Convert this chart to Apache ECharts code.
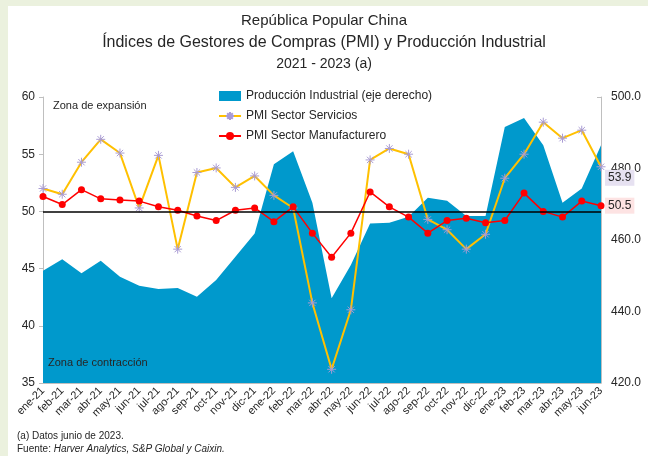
<!DOCTYPE html>
<html>
<head>
<meta charset="utf-8">
<script src="https://cdn.jsdelivr.net/npm/echarts@6/dist/echarts.min.js"></script>
<style>
  html, body { margin: 0; padding: 0; background: #fff; }
  #chart { width: 648px; height: 456px; }
</style>
</head>
<body>
<div id="chart"></div>
<script>
const months = [
  'ene-21', 'feb-21', 'mar-21', 'abr-21', 'may-21', 'jun-21', 'jul-21', 'ago-21', 'sep-21', 'oct-21',
  'nov-21', 'dic-21', 'ene-22', 'feb-22', 'mar-22', 'abr-22', 'may-22', 'jun-22', 'jul-22', 'ago-22',
  'sep-22', 'oct-22', 'nov-22', 'dic-22', 'ene-23', 'feb-23', 'mar-23', 'abr-23', 'may-23', 'jun-23',
];

// PMI (left axis)
const pmiServicios = [
  52.0, 51.5, 54.3, 56.3, 55.1, 50.3, 54.9, 46.7, 53.4, 53.8,
  52.1, 53.1, 51.4, 50.3, 42.0, 36.2, 41.4, 54.5, 55.5, 55.0,
  49.3, 48.4, 46.7, 48.0, 52.9, 55.0, 57.8, 56.4, 57.1, 53.9,
];
const pmiManufacturero = [
  51.3, 50.6, 51.9, 51.1, 51.0, 50.9, 50.4, 50.1, 49.6, 49.2,
  50.1, 50.3, 49.1, 50.4, 48.1, 46.0, 48.1, 51.7, 50.4, 49.5,
  48.1, 49.2, 49.4, 49.0, 49.2, 51.6, 50.0, 49.5, 50.9, 50.5,
];

// Producción industrial (right axis)
const produccion = [
  451.4, 454.6, 450.7, 454.2, 449.7, 447.2, 446.3, 446.6, 444.1, 448.8,
  455.3, 461.8, 481.2, 484.8, 470.4, 443.7, 453.0, 464.6, 464.8, 466.5,
  471.8, 471.0, 466.7, 466.7, 491.6, 494.1, 486.5, 470.4, 474.4, 486.5,
];

const umbral = 50;

const textColor = '#262626';
const axisColor = '#bfbfbf';
const font = 'Liberation Sans, Arial, sans-serif';

const chart = echarts.init(document.getElementById('chart'));

chart.setOption({
  backgroundColor: '#fff',
  animation: false,
  textStyle: { fontFamily: font },
  title: [
    { text: 'República Popular China', left: 'center', top: 8, textStyle: { fontSize: 15, fontWeight: 'normal', color: textColor } },
    { text: 'Índices de Gestores de Compras (PMI) y Producción Industrial', left: 'center', top: 30, textStyle: { fontSize: 16, fontWeight: 'normal', color: textColor } },
    { text: '2021 - 2023 (a)', left: 'center', top: 52, textStyle: { fontSize: 14, fontWeight: 'normal', color: textColor } },
  ],
  legend: {
    orient: 'vertical',
    left: 213,
    top: 85,
    itemGap: 8,
    itemWidth: 22,
    itemHeight: 10,
    textStyle: { fontSize: 12, color: textColor },
    data: [
      { name: 'Producción Industrial (eje derecho)', icon: 'rect' },
      'PMI Sector Servicios',
      'PMI Sector Manufacturero',
    ],
  },
  grid: { left: 43, right: 47, top: 97, bottom: 73 },
  xAxis: {
    type: 'category',
    data: months,
    boundaryGap: false,
    axisLine: { lineStyle: { color: axisColor } },
    axisTick: { show: false },
    axisLabel: { rotate: 45, fontSize: 11, color: textColor, margin: 6, interval: 0 },
  },
  yAxis: [
    {
      type: 'value',
      min: 35,
      max: 60,
      interval: 5,
      axisLine: { show: true, lineStyle: { color: axisColor } },
      axisTick: { show: true, length: 4, lineStyle: { color: axisColor } },
      splitLine: { show: false },
      axisLabel: { fontSize: 12, color: textColor, margin: 8 },
    },
    {
      type: 'value',
      min: 420,
      max: 500,
      interval: 20,
      axisLine: { show: true, lineStyle: { color: axisColor } },
      axisTick: { show: true, inside: true, length: 4, lineStyle: { color: axisColor } },
      splitLine: { show: false },
      axisLabel: { fontSize: 12, color: textColor, margin: 10, formatter: (v) => v.toFixed(1) },
    },
  ],
  series: [
    {
      name: 'Producción Industrial (eje derecho)',
      type: 'line',
      yAxisIndex: 1,
      data: produccion,
      showSymbol: false,
      symbol: 'none',
      lineStyle: { width: 0 },
      itemStyle: { color: '#0099cc' },
      areaStyle: { color: '#0099cc', opacity: 1, origin: 'start' },
      z: 1,
    },
    {
      name: 'PMI Sector Servicios',
      type: 'line',
      data: pmiServicios,
      symbol: 'path://M0,5L10,5M5,0L5,10M1.5,1.5L8.5,8.5M8.5,1.5L1.5,8.5',
      symbolSize: 9,
      lineStyle: { color: '#ffc000', width: 2 },
      itemStyle: { color: 'rgba(0,0,0,0)', borderColor: '#a99bd4', borderWidth: 1 },
      endLabel: {
        show: true,
        formatter: (p) => p.value.toFixed(1),
        fontSize: 12,
        color: textColor,
        backgroundColor: '#e6e1f1',
        padding: [2, 3],
        distance: 4,
        offset: [0, 11],
      },
      z: 3,
    },
    {
      name: 'PMI Sector Manufacturero',
      type: 'line',
      data: pmiManufacturero,
      symbol: 'circle',
      symbolSize: 7,
      lineStyle: { color: '#ff0000', width: 1.5 },
      itemStyle: { color: '#ff0000' },
      endLabel: {
        show: true,
        formatter: (p) => p.value.toFixed(1),
        fontSize: 12,
        color: textColor,
        backgroundColor: '#fde3e3',
        padding: [2, 3],
        distance: 4,
      },
      markLine: {
        silent: true,
        symbol: 'none',
        label: { show: false },
        lineStyle: { color: '#000', width: 1.5, type: 'solid' },
        data: [{ yAxis: umbral }],
      },
      z: 4,
    },
  ],
  graphic: [
    { type: 'rect', shape: { x: 0, y: 0, width: 648, height: 6 }, style: { fill: '#ebf1de' }, z: -10 },
    { type: 'rect', shape: { x: 0, y: 0, width: 8, height: 456 }, style: { fill: '#ebf1de' }, z: -10 },
    { type: 'text', left: 53, top: 100, style: { text: 'Zona de expansión', font: '11px ' + font, fill: textColor } },
    { type: 'text', left: 48, top: 357, z: 10, style: { text: 'Zona de contracción', font: '11px ' + font, fill: textColor } },
    {
      type: 'text', left: 17, top: 431,
      style: { text: '(a) Datos junio de 2023.', font: '10px ' + font, fill: textColor },
    },
    {
      type: 'text', left: 17, top: 444,
      style: {
        text: '{n|Fuente: }{i|Harver Analytics, S&P Global y Caixin.}',
        rich: {
          n: { font: '10px ' + font, fill: textColor },
          i: { font: 'italic 10px ' + font, fill: textColor },
        },
      },
    },
  ],
});
</script>
</body>
</html>
